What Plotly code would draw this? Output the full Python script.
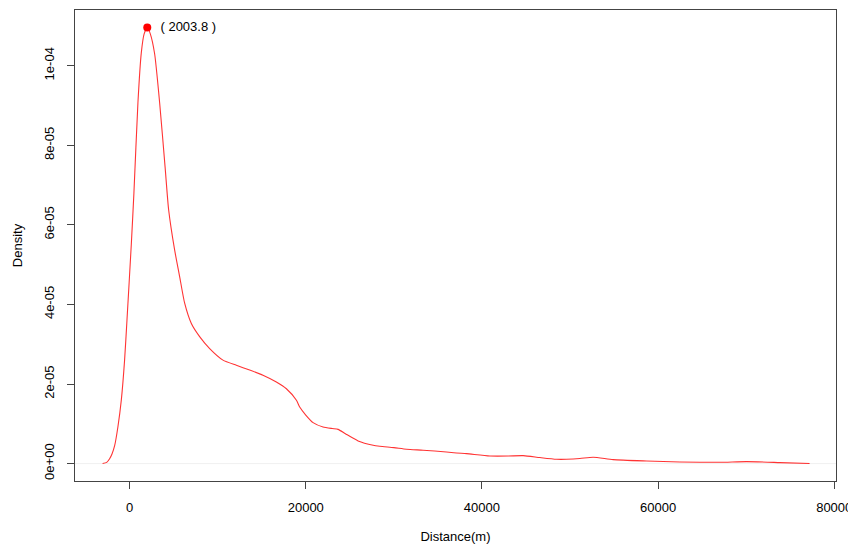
import plotly.graph_objects as go

# Density curve (distance in m, density)
distance = [-3070, -2600, -2270, -2000, -1700, -1330, -940, -570, -300, 190, 490, 945, 1330,
            1650, 2003.8, 2350, 2840, 3410, 4030, 4430, 5110, 5680, 6250, 7010, 7950,
            9090, 10600, 12120, 13630, 15140, 16660, 17800, 18940, 19310, 20000, 20830,
            21960, 23000, 23670, 24500, 25940, 27650, 28400, 30000, 31440, 33320, 35980,
            37110, 38250, 40900, 43000, 44680, 46580, 48470, 49600, 51120, 52630, 54900,
            58690, 62480, 67020, 70050, 73840, 77200]
density_e5 = [0.0, 0.03, 0.12, 0.24, 0.45, 0.92, 1.6, 2.6, 3.6, 5.5, 6.8, 9.07, 10.33,
              10.8, 10.96, 10.8, 10.3, 9.07, 7.45, 6.38, 5.37, 4.70, 4.03, 3.52, 3.19,
              2.89, 2.60, 2.47, 2.35, 2.22, 2.05, 1.88, 1.59, 1.42, 1.22, 1.03,
              0.92, 0.88, 0.86, 0.75, 0.57, 0.46, 0.435, 0.40, 0.36, 0.335, 0.292,
              0.267, 0.25, 0.191, 0.19, 0.20, 0.151, 0.108, 0.108, 0.126, 0.16, 0.10,
              0.065, 0.04, 0.033, 0.05, 0.025, 0.0]
density = [v * 1e-5 for v in density_e5]

peak_x = 2003.8
peak_y = 10.96e-5
peak_label = "( 2003.8 )"

x_ticks = [0, 20000, 40000, 60000, 80000]
x_ticktext = ["0", "20000", "40000", "60000", "80000"]
y_ticks = [0, 2e-5, 4e-5, 6e-5, 8e-5, 1e-4]
y_ticktext = ["0e+00", "2e-05", "4e-05", "6e-05", "8e-05", "1e-04"]

font_family = "Liberation Sans, Arial, Helvetica, sans-serif"

fig = go.Figure()
fig.add_trace(go.Scatter(
    x=distance, y=density, mode="lines",
    line=dict(color="rgba(255,0,0,0.8)", width=1.1, shape="spline", smoothing=0.6),
    hoverinfo="skip", showlegend=False,
))
fig.add_trace(go.Scatter(
    x=[peak_x], y=[peak_y], mode="markers+text",
    marker=dict(color="red", size=8),
    text=["  " + peak_label], textposition="middle right",
    textfont=dict(color="black", size=13, family=font_family),
    showlegend=False,
))

fig.add_shape(type="line", xref="x domain", yref="y", x0=0, x1=1, y0=0, y1=0,
              line=dict(color="#f0f0f0", width=1), layer="below")

# page body has an 8px margin; size the figure to fit the 856x552 window
fig.update_layout(
    width=847, height=536,
    margin=dict(l=67, r=19, t=2, b=63, autoexpand=False),
    paper_bgcolor="white", plot_bgcolor="white",
    font=dict(family=font_family, size=13, color="black"),
)
fig.update_xaxes(
    range=[-6200, 80200], tickvals=x_ticks, ticktext=x_ticktext,
    showgrid=False, zeroline=False, showline=True, mirror=True,
    linecolor="#444", linewidth=1, ticks="outside", ticklen=7, tickcolor="#444",
    ticklabelstandoff=7, automargin=False, ticklabeloverflow="allow",
    title=dict(text="Distance(m)", standoff=20, font=dict(size=13)),
)
fig.update_yaxes(
    range=[-4.38e-6, 1.14e-4], tickvals=y_ticks, ticktext=y_ticktext,
    tickangle=-90,
    showgrid=False, zeroline=False, showline=True, mirror=True,
    linecolor="#444", linewidth=1, ticks="outside", ticklen=7, tickcolor="#444",
    ticklabelstandoff=8, automargin=False,
    title=dict(text="Density", standoff=16, font=dict(size=13)),
)

fig.write_html("out.html")
